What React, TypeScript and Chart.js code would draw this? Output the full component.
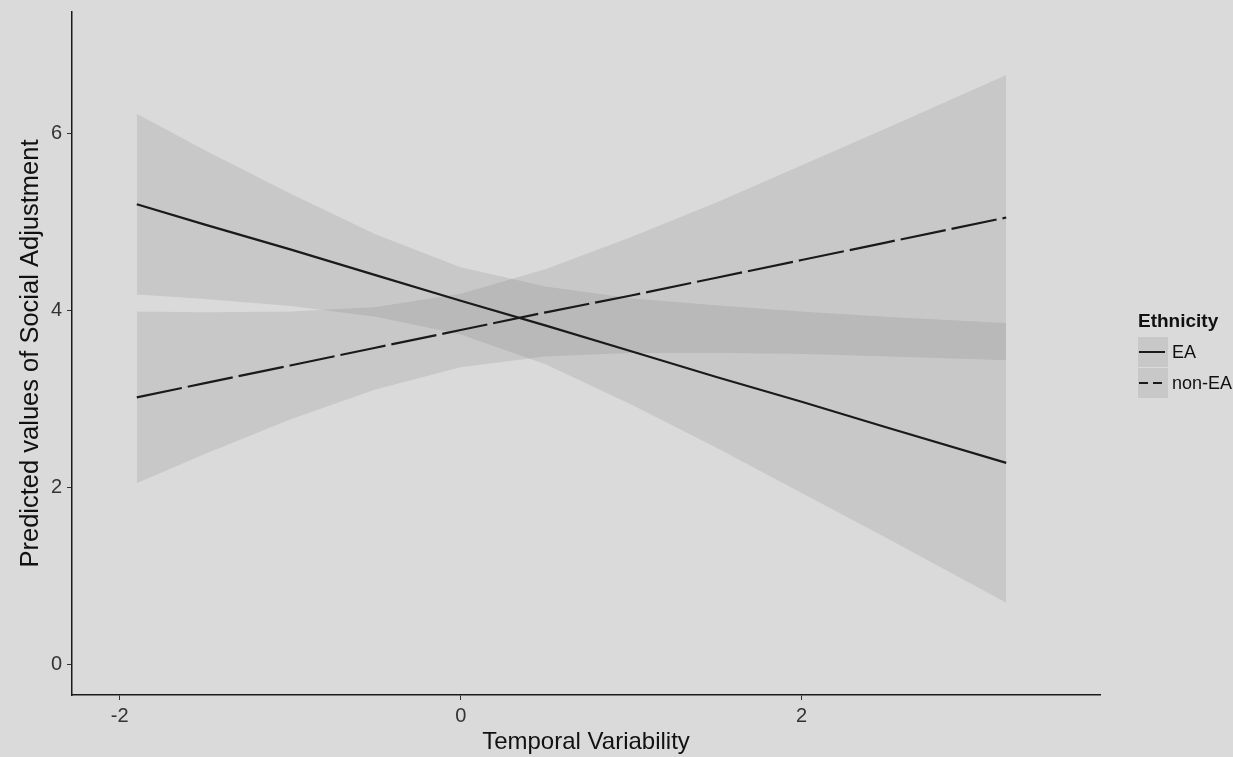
import React, { useEffect, useRef } from "react";
import { Chart, registerables } from "chart.js";

Chart.register(...registerables);

// ---- data ----
const xValues = [-1.9, -1.5, -1, -0.5, 0, 0.5, 1, 1.5, 2, 2.5, 3.2];
const eaFit = [5.2, 4.97, 4.69, 4.4, 4.11, 3.83, 3.54, 3.25, 2.97, 2.68, 2.28];
const eaUpper = [6.22, 5.81, 5.32, 4.86, 4.49, 4.27, 4.14, 4.06, 3.99, 3.93, 3.86];
const eaLower = [4.18, 4.13, 4.05, 3.93, 3.73, 3.39, 2.94, 2.45, 1.94, 1.43, 0.7];
const nonEaFit = [3.02, 3.18, 3.38, 3.58, 3.78, 3.98, 4.17, 4.37, 4.57, 4.77, 5.05];
const nonEaUpper = [3.99, 3.98, 3.99, 4.04, 4.19, 4.47, 4.83, 5.22, 5.64, 6.06, 6.66];
const nonEaLower = [2.05, 2.38, 2.77, 3.11, 3.36, 3.48, 3.52, 3.52, 3.51, 3.48, 3.44];

const xTicks = [-2, 0, 2];
const yTicks = [0, 2, 4, 6];
const xTitle = "Temporal Variability";
const yTitle = "Predicted values of Social Adjustment";
const legendTitle = "Ethnicity";
const groupNames = ["EA", "non-EA"];

const FONT = "'Liberation Sans', Arial, Helvetica, sans-serif";
const BG = "#dadada";
const RIBBON = "rgba(0,0,0,0.08)";

const pts = (ys: number[]) => xValues.map((x, i) => ({ x, y: ys[i] }));

const legendPlugin = {
  id: "ggLegend",
  afterDraw(chart: any) {
    const ctx = chart.ctx;
    ctx.save();
    ctx.fillStyle = "#111";
    ctx.textBaseline = "middle";
    ctx.textAlign = "left";
    ctx.font = `bold 19px ${FONT}`;
    ctx.fillText(legendTitle, 1138, 322);
    const keyTops = [337, 368];
    keyTops.forEach((top, i) => {
      ctx.fillStyle = RIBBON;
      ctx.fillRect(1138, top, 30, 30);
      ctx.strokeStyle = "#1a1a1a";
      ctx.lineWidth = 2;
      ctx.setLineDash(i === 0 ? [] : [9, 5]);
      ctx.beginPath();
      ctx.moveTo(1139, top + 15);
      ctx.lineTo(1165, top + 15);
      ctx.stroke();
      ctx.setLineDash([]);
      ctx.fillStyle = "#111";
      ctx.font = `18px ${FONT}`;
      ctx.fillText(groupNames[i], 1172, top + 16);
    });
    ctx.restore();
  },
};

export default function App() {
  const ref = useRef<HTMLCanvasElement | null>(null);

  useEffect(() => {
    if (!ref.current) return;
    const ribbonBase = {
      borderWidth: 0,
      borderColor: "rgba(0,0,0,0)",
      backgroundColor: RIBBON,
      pointRadius: 0,
      tension: 0,
    };
    const chart = new Chart(ref.current, {
      type: "line",
      data: {
        datasets: [
          {
            label: groupNames[0],
            data: pts(eaFit),
            borderColor: "#1a1a1a",
            borderWidth: 2.2,
            pointRadius: 0,
            fill: false,
          },
          {
            label: groupNames[1],
            data: pts(nonEaFit),
            borderColor: "#1a1a1a",
            borderWidth: 2.2,
            borderDash: [46, 6],
            pointRadius: 0,
            fill: false,
          },
          { label: "EA upper", data: pts(eaUpper), fill: "+1", ...ribbonBase },
          { label: "EA lower", data: pts(eaLower), fill: false, ...ribbonBase },
          { label: "non-EA upper", data: pts(nonEaUpper), fill: "+1", ...ribbonBase },
          { label: "non-EA lower", data: pts(nonEaLower), fill: false, ...ribbonBase },
        ] as any,
      },
      options: {
        animation: false,
        responsive: false,
        layout: { padding: { left: 0, top: 12, right: 133, bottom: 0 } },
        plugins: {
          legend: { display: false },
          tooltip: { enabled: false },
        },
        scales: {
          x: {
            type: "linear",
            min: -2.28,
            max: 3.75,
            afterBuildTicks: (s: any) => {
              s.ticks = xTicks.map((v) => ({ value: v }));
            },
            afterFit: (s: any) => {
              s.height = 62;
              s.paddingLeft = 0;
              s.paddingRight = 0;
            },
            grid: {
              display: true,
              drawOnChartArea: false,
              drawTicks: true,
              tickLength: 5,
              color: "#333",
              lineWidth: 1,
            },
            border: { display: true, color: "#1a1a1a", width: 1.5 },
            ticks: {
              font: { family: FONT, size: 20 },
              color: "#333",
              padding: 4,
              maxRotation: 0,
            },
            title: {
              display: true,
              text: xTitle,
              font: { family: FONT, size: 24 },
              color: "#111",
              padding: { top: 0, bottom: 0 },
            },
          },
          y: {
            type: "linear",
            min: -0.34,
            max: 7.37,
            afterBuildTicks: (s: any) => {
              s.ticks = yTicks.map((v) => ({ value: v }));
            },
            afterFit: (s: any) => {
              s.width = 72;
              s.paddingTop = 0;
              s.paddingBottom = 0;
            },
            grid: {
              display: true,
              drawOnChartArea: false,
              drawTicks: true,
              tickLength: 5,
              color: "#333",
              lineWidth: 1,
            },
            border: { display: true, color: "#1a1a1a", width: 1.5 },
            ticks: {
              font: { family: FONT, size: 20 },
              color: "#333",
              padding: 5,
            },
            title: {
              display: true,
              text: yTitle,
              font: { family: FONT, size: 25.5 },
              color: "#111",
              padding: { top: 16, bottom: 0 },
            },
          },
        },
      } as any,
      plugins: [legendPlugin],
    });
    return () => chart.destroy();
  }, []);

  return (
    <div
      style={{
        position: "fixed",
        left: 0,
        top: 0,
        width: 1233,
        height: 757,
        background: BG,
      }}
    >
      <canvas ref={ref} width={1233} height={757} style={{ display: "block" }} />
    </div>
  );
}
